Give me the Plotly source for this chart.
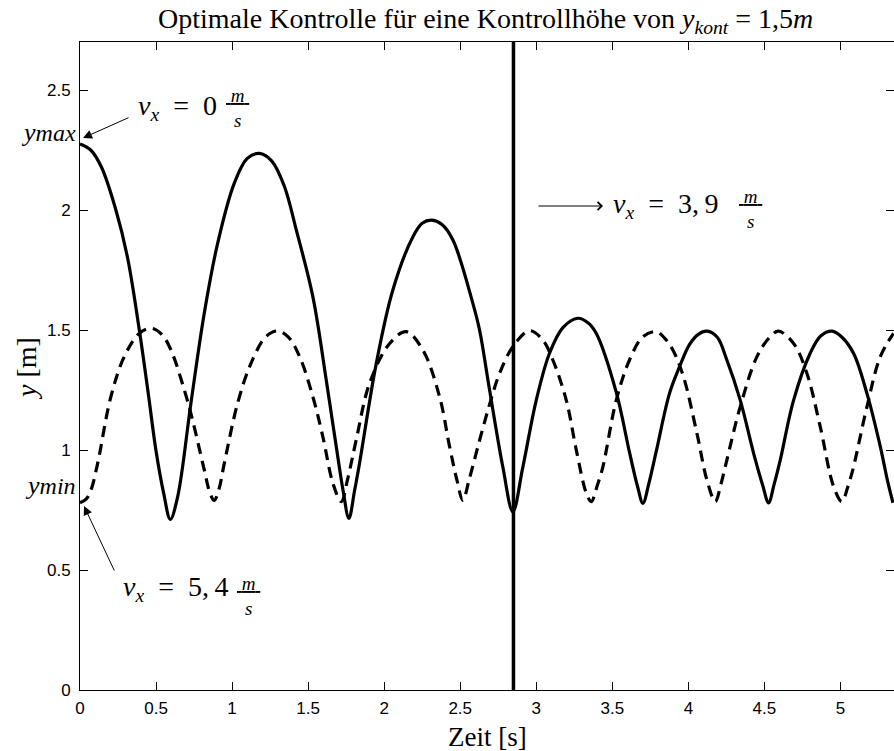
import plotly.graph_objects as go

# Trajectory heights y(t) under optimal control, read at the turning points
# and along each arc of the two bouncing-height runs.
t_solid = [0.000, 0.070, 0.140, 0.236, 0.313, 0.390, 0.450, 0.499, 0.550, 0.594,
           0.642, 0.729, 0.817, 0.905, 1.014, 1.100, 1.179, 1.260, 1.343, 1.422,
           1.531, 1.619, 1.685, 1.730, 1.768, 1.805, 1.838, 1.948, 2.057, 2.189,
           2.250, 2.310, 2.380, 2.452, 2.583, 2.627, 2.693, 2.780, 2.846, 2.912,
           3.000, 3.087, 3.175, 3.274, 3.340, 3.394, 3.526, 3.613, 3.665, 3.701,
           3.740, 3.789, 3.876, 3.942, 4.008, 4.065, 4.122, 4.190, 4.253, 4.341,
           4.429, 4.490, 4.527, 4.565, 4.604, 4.692, 4.801, 4.870, 4.944, 5.010,
           5.086, 5.174, 5.262, 5.310, 5.345]
y_solid = [2.275, 2.250, 2.180, 2.000, 1.800, 1.500, 1.230, 1.000, 0.820, 0.711,
           0.805, 1.194, 1.570, 1.861, 2.111, 2.215, 2.236, 2.205, 2.100, 1.917,
           1.639, 1.292, 1.014, 0.830, 0.715, 0.830, 0.945, 1.361, 1.667, 1.889,
           1.945, 1.958, 1.940, 1.875, 1.611, 1.500, 1.250, 0.930, 0.743, 0.930,
           1.208, 1.403, 1.510, 1.549, 1.530, 1.486, 1.240, 0.990, 0.850, 0.778,
           0.860, 0.995, 1.236, 1.347, 1.440, 1.482, 1.495, 1.470, 1.375, 1.208,
           0.986, 0.850, 0.780, 0.860, 0.958, 1.208, 1.403, 1.475, 1.495, 1.470,
           1.403, 1.236, 1.014, 0.870, 0.780]

t_dash = [0.000, 0.040, 0.072, 0.116, 0.203, 0.291, 0.390, 0.470, 0.540, 0.598,
          0.686, 0.740, 0.817, 0.855, 0.883, 0.915, 0.949, 1.036, 1.124, 1.222,
          1.299, 1.370, 1.444, 1.531, 1.597, 1.663, 1.718, 1.760, 1.816, 1.904,
          2.036, 2.145, 2.254, 2.364, 2.430, 2.480, 2.517, 2.560, 2.627, 2.693,
          2.759, 2.846, 2.956, 3.043, 3.109, 3.197, 3.263, 3.329, 3.362, 3.400,
          3.438, 3.526, 3.613, 3.701, 3.789, 3.845, 3.898, 3.968, 4.056, 4.122,
          4.177, 4.215, 4.253, 4.341, 4.451, 4.538, 4.593, 4.692, 4.779, 4.867,
          4.955, 5.009, 5.050, 5.086, 5.174, 5.262, 5.349]
y_dash = [0.780, 0.795, 0.833, 0.944, 1.222, 1.389, 1.486, 1.507, 1.480, 1.417,
          1.250, 1.125, 0.917, 0.820, 0.790, 0.840, 0.945, 1.194, 1.361, 1.472,
          1.496, 1.470, 1.389, 1.222, 1.055, 0.861, 0.785, 0.880, 1.042, 1.278,
          1.444, 1.493, 1.417, 1.222, 1.014, 0.870, 0.790, 0.880, 1.040, 1.190,
          1.320, 1.430, 1.497, 1.458, 1.375, 1.208, 1.000, 0.820, 0.785, 0.850,
          0.930, 1.208, 1.375, 1.472, 1.493, 1.465, 1.417, 1.305, 1.070, 0.875,
          0.785, 0.860, 0.958, 1.180, 1.389, 1.472, 1.495, 1.444, 1.320, 1.097,
          0.847, 0.785, 0.850, 0.930, 1.180, 1.389, 1.486]

# Switching instant of the control
t_switch = 2.85

x_ticks = [0, 0.5, 1, 1.5, 2, 2.5, 3, 3.5, 4, 4.5, 5]
x_tick_text = ["0", "0.5", "1", "1.5", "2", "2.5", "3", "3.5", "4", "4.5", "5"]
y_ticks = [0, 0.5, 1, 1.5, 2, 2.5]
y_tick_text = ["0", "0.5", "1", "1.5", "2", "2.5"]

X_RANGE = [0, 5.352]
Y_RANGE = [0, 2.7]

W, H = 894, 751
ML, MR, MT, MB = 80, 0, 42, 61
SERIF = "Liberation Serif, Times New Roman, serif"
SANS = "Liberation Sans, Arial, Helvetica, sans-serif"


def px(xp):
    """Horizontal page pixel -> paper fraction of the plot area."""
    return (xp - ML) / (W - ML - MR)


def py(yp):
    """Vertical page pixel -> paper fraction of the plot area."""
    return (H - MB - yp) / (H - MT - MB)


fig = go.Figure()

fig.add_trace(go.Scatter(
    x=t_solid, y=y_solid, mode="lines",
    line=dict(color="black", width=3.2, shape="spline", smoothing=1.0),
    hoverinfo="skip", showlegend=False))

fig.add_trace(go.Scatter(
    x=t_dash, y=y_dash, mode="lines",
    line=dict(color="black", width=3.2, dash="11px,7px",
              shape="spline", smoothing=1.0),
    hoverinfo="skip", showlegend=False))

fig.add_trace(go.Scatter(
    x=[t_switch, t_switch], y=Y_RANGE, mode="lines",
    line=dict(color="black", width=3.5),
    hoverinfo="skip", showlegend=False))

annotations = []


def text(xp, yp, s, size=26, xanchor="left", yanchor="middle", angle=0,
         family=SERIF):
    annotations.append(dict(
        xref="paper", yref="paper", x=px(xp), y=py(yp), text=s,
        showarrow=False, xanchor=xanchor, yanchor=yanchor, textangle=angle,
        font=dict(family=family, size=size, color="black")))


def arrow(xh, yh, xt, yt, head=2, width=1.0, size=1.3):
    annotations.append(dict(
        xref="paper", yref="paper", x=px(xh), y=py(yh),
        ax=xt - xh, ay=yt - yh, axref="pixel", ayref="pixel", text="",
        showarrow=True, arrowhead=head, arrowsize=size, arrowwidth=width,
        arrowcolor="black", standoff=0, startstandoff=0))


def fraction(xc, ybar, num="m", den="s", size=19):
    """Stacked unit fraction; the underlined numerator forms the bar."""
    pad = "\u00a0"
    text(xc, ybar + 5, f"<u>{pad}<i>{num}</i>{pad}</u><br><i>{den}</i>",
         size=size, xanchor="center")


# Title and axis titles
text(485, 20, "Optimale Kontrolle für eine Kontrollhöhe von "
     "<i>y</i><sub><i>kont</i></sub> = 1,5<i>m</i>",
     size=28, xanchor="center")
text(487, 737, "Zeit [s]", size=27, xanchor="center")
text(26, 369, "<i>y</i> [m]", size=28, xanchor="center", angle=-90)

# Bounds on the left axis
text(78, 133, "<i>y<span style='font-size:24px'>max</span></i>", size=26,
     xanchor="right")
text(78, 486, "<i>y<span style='font-size:24px'>min</span></i>", size=26,
     xanchor="right")

# Velocity notes
text(219, 107, "<i>v<sub>x</sub></i>\u2002=\u20020", size=28, xanchor="right")
fraction(237.5, 103)
arrow(83, 138, 130, 117, size=1.8)

text(231, 588, "<i>v<sub>x</sub></i>\u2002=\u20025,\u20094", size=28,
     xanchor="right")
fraction(248.5, 591)
arrow(84, 506, 115, 572, size=1.8)

text(721, 205, "<i>v<sub>x</sub></i>\u2002=\u20023,\u20099", size=28,
     xanchor="right")
fraction(750, 204)
arrow(603, 206, 537, 206, head=4, size=1.6)

axis_common = dict(
    showline=True, linecolor="black", linewidth=1, mirror="ticks",
    ticks="inside", ticklen=8, tickwidth=1, tickcolor="black",
    showgrid=False, zeroline=False,
    tickfont=dict(family=SANS, size=17, color="black"),
)

fig.update_layout(
    width=W, height=H,
    margin=dict(l=ML, r=MR, t=MT, b=MB),
    paper_bgcolor="white", plot_bgcolor="white",
    xaxis=dict(range=X_RANGE, tickvals=x_ticks, ticktext=x_tick_text,
               ticklabelstandoff=3, **axis_common),
    yaxis=dict(range=Y_RANGE, tickvals=y_ticks, ticktext=y_tick_text,
               ticklabelstandoff=5, **axis_common),
    annotations=annotations,
    showlegend=False,
)

fig.write_html("out.html")
